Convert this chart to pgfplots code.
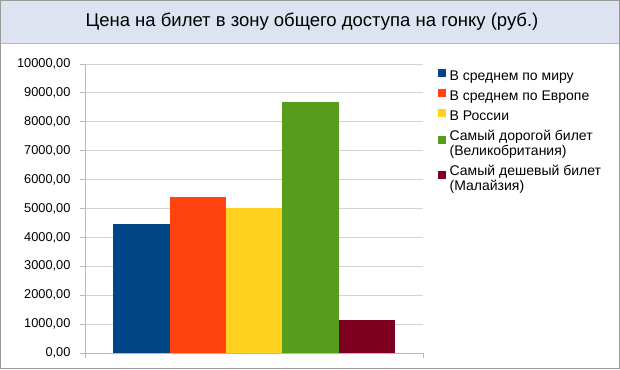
\documentclass[border=0pt]{standalone}
\usepackage{pgfplots}
\pgfplotsset{compat=1.18}
\usepackage{fontspec}
\setmainfont{Liberation Sans}
\definecolor{cblue}{HTML}{004586}
\definecolor{corange}{HTML}{FF420E}
\definecolor{cyellow}{HTML}{FFD320}
\definecolor{cgreen}{HTML}{579D1C}
\definecolor{cmaroon}{HTML}{7E0021}
\definecolor{band}{HTML}{DEE3F1}
\definecolor{gridc}{HTML}{D3D3D3}
\definecolor{axc}{HTML}{B8B8B8}
\begin{document}
\begin{tikzpicture}
\useasboundingbox (0pt,0pt) rectangle (620pt,369pt);
% frame and title band (pixel coords, y up)
\fill[white] (0pt,0pt) rectangle (620pt,369pt);
\fill[band] (0pt,326pt) rectangle (620pt,369pt);
\draw[axc,line width=1pt] (0pt,325.5pt) -- (620pt,325.5pt);
\draw[gray!80,line width=1.2pt] (0.6pt,0.6pt) rectangle (619.4pt,368.4pt);
\node[font=\fontsize{18.5}{22}\selectfont] at (312pt,347pt) {Цена на билет в зону общего доступа на гонку (руб.)};
\begin{axis}[
  at={(85pt,16pt)}, anchor=south west,
  scale only axis, width=338pt, height=289pt,
  xmin=0, xmax=6, ymin=0, ymax=10000,
  ybar, bar width=1, bar shift=0pt,
  ytick={0,1000,...,10000},
  xtick={0,6}, xticklabels={},
  ymajorgrids, grid style={gridc, line width=0.8pt},
  axis line style={axc, line width=0.8pt},
  axis x line*=bottom, axis y line*=left,
  tick style={axc, line width=0.8pt},
  tick align=outside, major tick length=5pt,
  yticklabel style={font=\fontsize{12.8}{15}\selectfont, xshift=-6pt},
  /pgf/number format/assume math mode=true,
  yticklabel={\pgfmathprintnumber[fixed, fixed zerofill, precision=2, use comma, 1000 sep={}]{\tick}},
  scaled y ticks=false,
  legend style={draw=none, fill=none, at={(1,1)}, anchor=north west, xshift=12pt, yshift=-3pt,
    font=\fontsize{14}{15}\selectfont, cells={anchor=west, align=left},
    row sep=4.5pt, /tikz/every even column/.append style={column sep=0pt}},
  legend image code/.code={\fill[#1,draw=none] (0pt,-0.5pt) rectangle (8pt,7.5pt);},
  legend style={/tikz/every odd column/.append style={column sep=1.5pt}},
  legend cell align=left,
]
\addplot[fill=cblue, draw=none] coordinates {(1,4450)};
\addlegendentry{В среднем по миру}
\addplot[fill=corange, draw=none] coordinates {(2,5400)};
\addlegendentry{В среднем по Европе}
\addplot[fill=cyellow, draw=none] coordinates {(3,5000)};
\addlegendentry{В России}
\addplot[fill=cgreen, draw=none] coordinates {(4,8700)};
\addlegendentry{Самый дорогой билет\\(Великобритания)}
\addplot[fill=cmaroon, draw=none] coordinates {(5,1130)};
\addlegendentry{Самый дешевый билет\\(Малайзия)}
\end{axis}
\end{tikzpicture}
\end{document}
